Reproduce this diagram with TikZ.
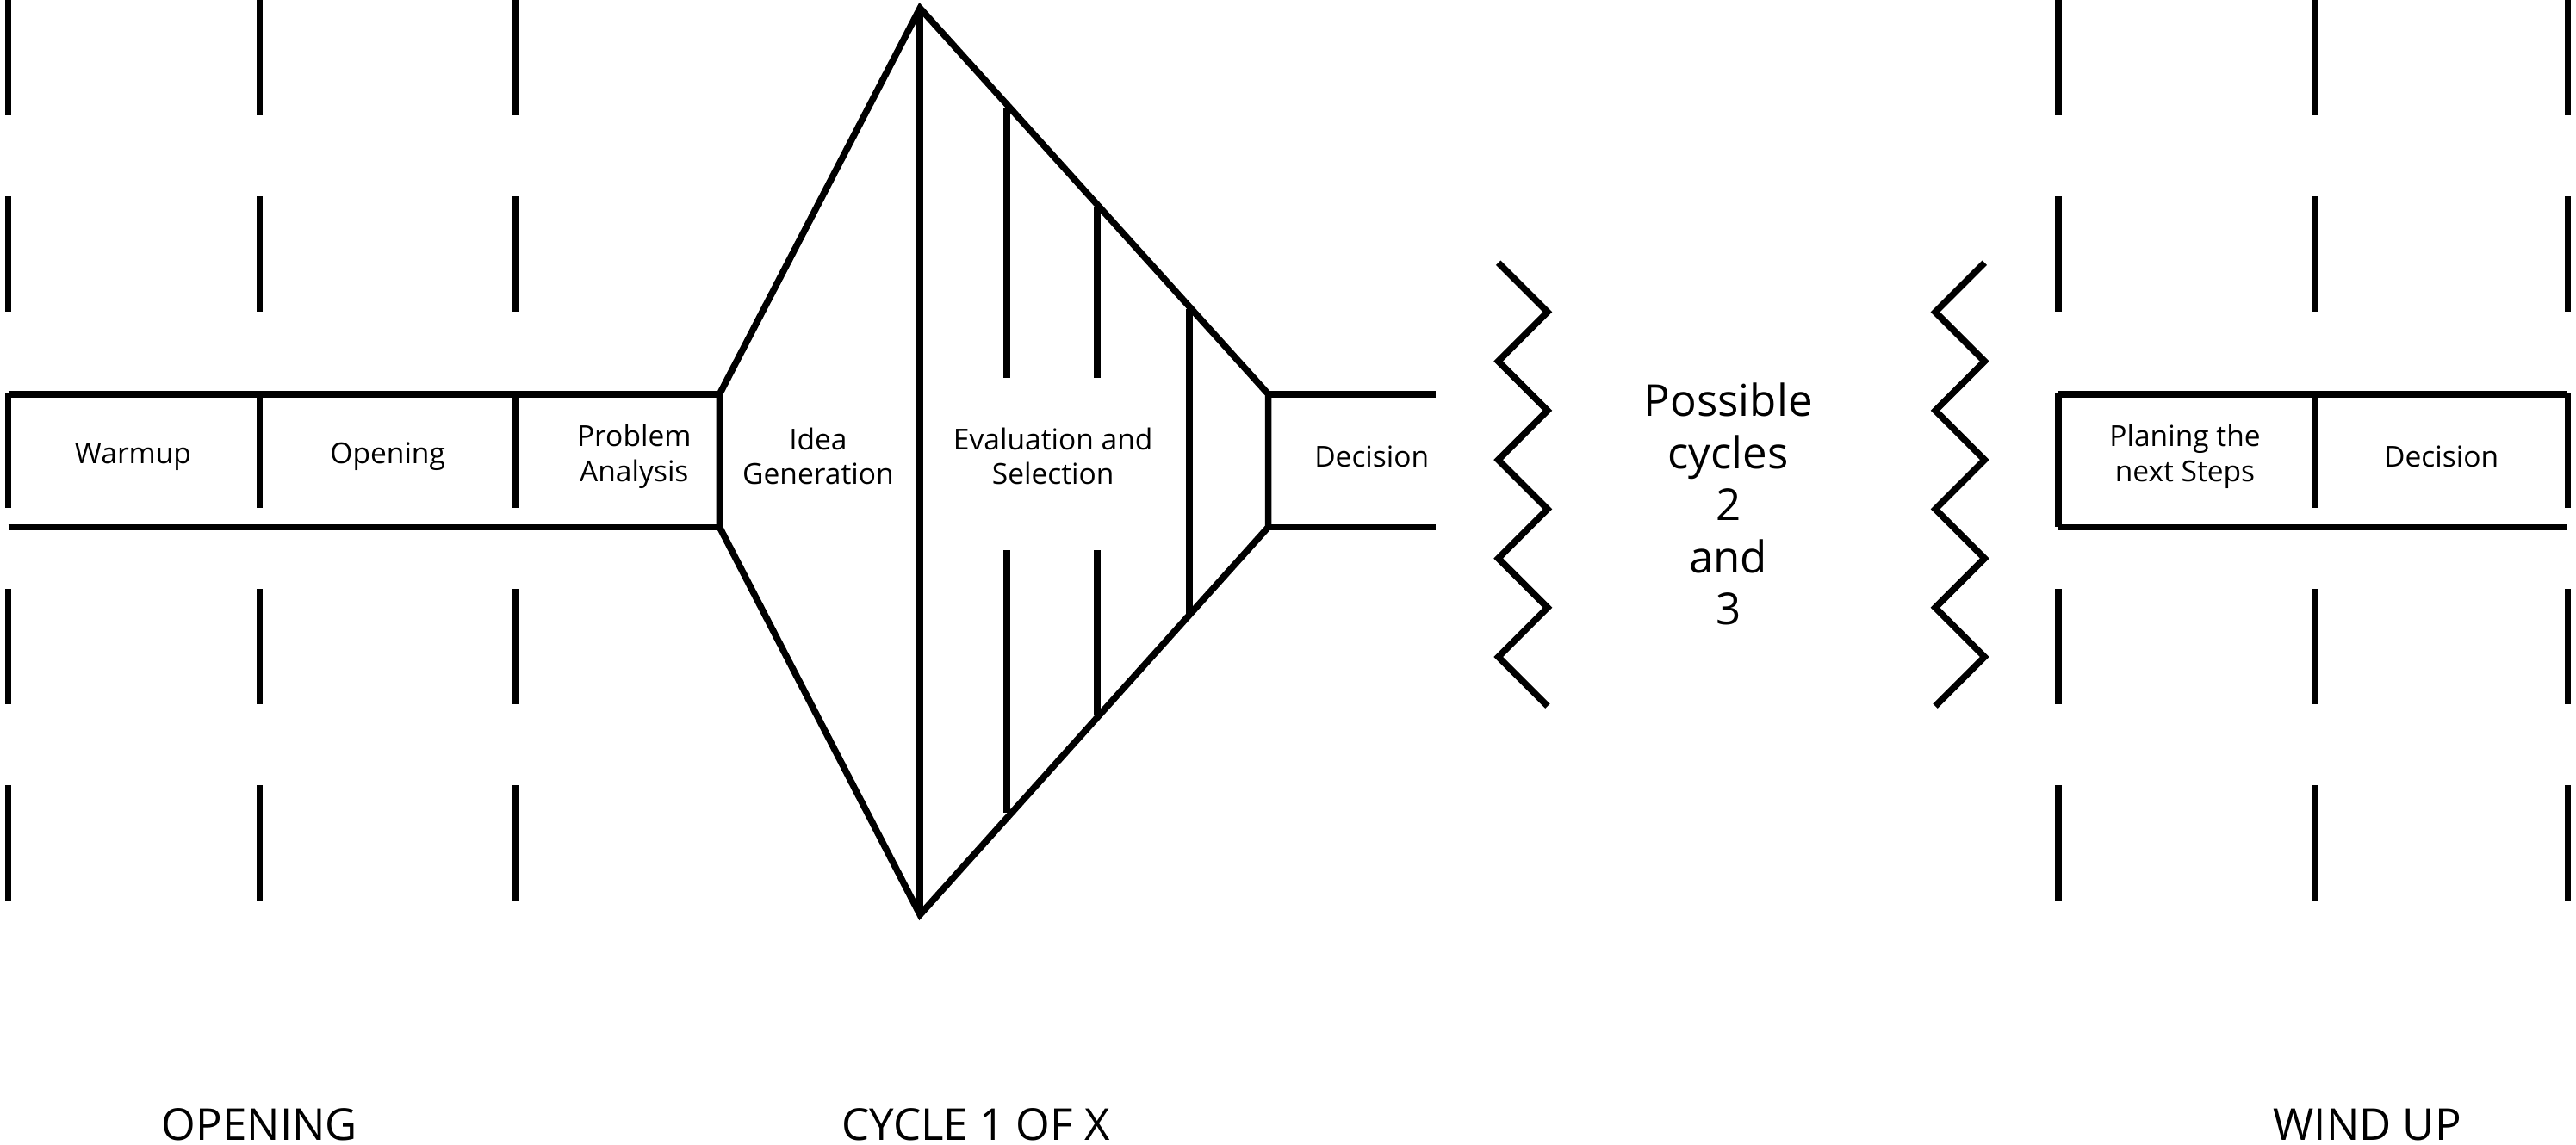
\documentclass[tikz,border=0pt]{standalone}
\usepackage{fontspec}
\setmainfont{Open Sans}
\begin{document}
\begin{tikzpicture}[x=0.01cm,y=-0.01cm,line width=0.04cm,
    phase/.style={dash pattern=on 20 off 14},
    stage/.style={font=\fontsize{5}{6}\selectfont,align=center},
    part/.style={font=\fontsize{7.6}{9}\selectfont}]
    \useasboundingbox (0,0) rectangle (1568,697);
    % Define dividers
    \foreach \x in {5,158,314,1253,1409,1563}
        \draw[phase] (\x,0) -- (\x,565);
    % Draw opening band
    \draw (5,240) -- (438,240);
    \draw (5,321) -- (438,321);
    % Draw cycle diamond
    \draw (438,240) -- (560,5) -- (772,240) -- (772,321) -- (560,557) -- (438,321) -- cycle;
    \draw (560,5) -- (560,557);
    \draw (613,66) -- (613,230);
    \draw (613,335) -- (613,495);
    \draw (668,126) -- (668,230);
    \draw (668,335) -- (668,435);
    \draw (724,188) -- (724,375);
    \draw (772,240) -- (874,240);
    \draw (772,321) -- (874,321);
    % Draw zigzags
    \draw (912,160) \foreach \i in {1,...,9} {-- ({912+30*mod(\i,2)},{160+30*\i})};
    \draw (1208,160) \foreach \i in {1,...,9} {-- ({1208-30*mod(\i,2)},{160+30*\i})};
    % Draw wind up band
    \draw (1253,240) -- (1563,240);
    \draw (1253,321) -- (1563,321);
    \draw (1253,240) -- (1253,321);
    % Define labels
    \node[stage] (warmup) at (81,278) {Warmup};
    \node[stage] (opening) at (236,278) {Opening};
    \node[stage] (problem) at (386,278) {Problem\\Analysis};
    \node[stage] (idea) at (498,278) {Idea\\Generation};
    \node[stage] (eval) at (641,278) {Evaluation and\\Selection};
    \node[stage] (decision) at (835,278) {Decision};
    \node[part,align=center] (cycles) at (1052,307) {Possible\\cycles\\2\\and\\3};
    \node[stage] (planing) at (1330,278) {Planing the\\next Steps};
    \node[stage] (decision2) at (1486,278) {Decision};
    \node[part] (openlbl) at (158,685) {OPENING};
    \node[part] (cyclelbl) at (594,685) {CYCLE 1 OF X};
    \node[part] (windlbl) at (1441,685) {WIND UP};
\end{tikzpicture}
\end{document}
